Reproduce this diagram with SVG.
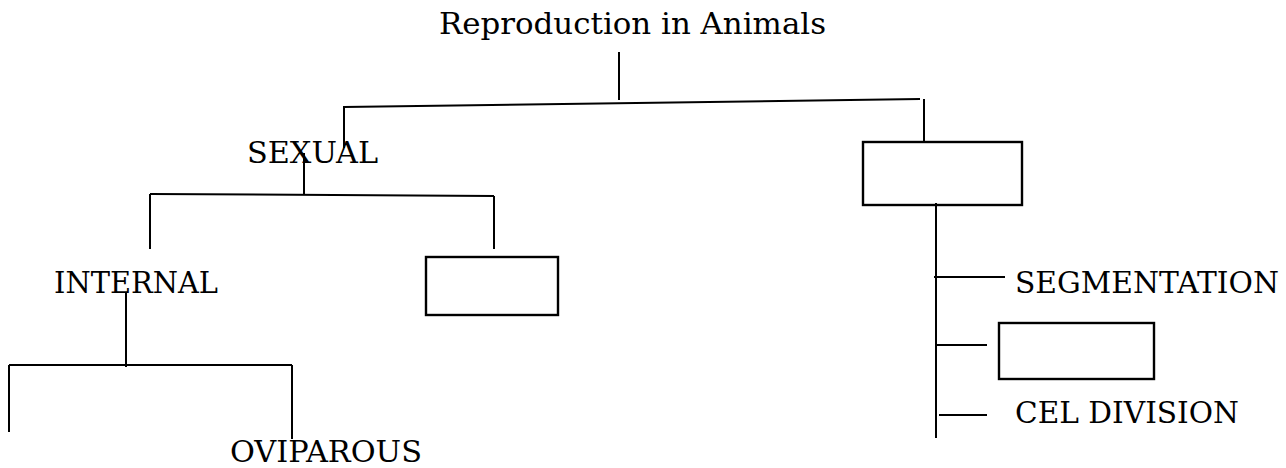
<svg xmlns="http://www.w3.org/2000/svg" width="1286" height="468" viewBox="0 0 1286 468">
<style>
.t{font-family:"DejaVu Serif","Liberation Serif",serif;font-size:30.5px;fill:#000}
.c line{stroke:#000;stroke-width:2;fill:none}
.b{fill:#fff;stroke:#000;stroke-width:2.4}
</style>
<rect width="1286" height="468" fill="#fff"/>
<g id="root"><text class="t" x="439" y="34" textLength="387" lengthAdjust="spacingAndGlyphs">Reproduction in Animals</text></g>
<g id="sexual"><text class="t" x="247" y="163" textLength="131" lengthAdjust="spacingAndGlyphs">SEXUAL</text></g>
<g id="asexual-box"><rect class="b" x="863" y="142" width="159" height="63"/></g>
<g id="internal"><text class="t" x="54" y="293" textLength="164" lengthAdjust="spacingAndGlyphs">INTERNAL</text></g>
<g id="external-box"><rect class="b" x="426" y="257" width="132" height="58"/></g>
<g id="oviparous"><text class="t" x="230" y="462" textLength="192" lengthAdjust="spacingAndGlyphs">OVIPAROUS</text></g>
<g id="segmentation"><text class="t" x="1015" y="293" textLength="264" lengthAdjust="spacingAndGlyphs">SEGMENTATION</text></g>
<g id="budding-box"><rect class="b" x="999" y="323" width="155" height="56"/></g>
<g id="cel-division"><text class="t" x="1015" y="423" textLength="224" lengthAdjust="spacingAndGlyphs">CEL DIVISION</text></g>
<g id="connectors" class="c">
<line x1="619" y1="52" x2="619" y2="100"/>
<line x1="344" y1="107" x2="920" y2="99"/>
<line x1="344" y1="106" x2="344" y2="148"/>
<line x1="924" y1="99" x2="924" y2="142"/>
<line x1="304" y1="153" x2="304" y2="195"/>
<line x1="150" y1="194" x2="494" y2="196"/>
<line x1="150" y1="194" x2="150" y2="249"/>
<line x1="494" y1="196" x2="494" y2="249"/>
<line x1="126" y1="293" x2="126" y2="367"/>
<line x1="9" y1="365" x2="292" y2="365"/>
<line x1="9" y1="365" x2="9" y2="432"/>
<line x1="292" y1="365" x2="292" y2="439"/>
<line x1="936" y1="203" x2="936" y2="438"/>
<line x1="934" y1="277" x2="1005" y2="277"/>
<line x1="936" y1="345" x2="987" y2="345"/>
<line x1="939" y1="415" x2="987" y2="415"/>
</g>
</svg>
